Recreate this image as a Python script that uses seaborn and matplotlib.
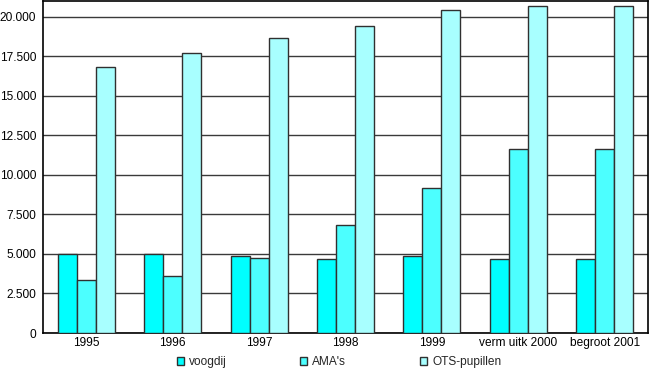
import matplotlib
matplotlib.use("Agg")
import matplotlib.pyplot as plt
from matplotlib.ticker import FuncFormatter, MultipleLocator, FixedLocator
import seaborn as sns
import pandas as pd

jaren = ["1995", "1996", "1997", "1998", "1999", "verm uitk 2000", "begroot 2001"]
voogdij = [5000, 5000, 4900, 4700, 4850, 4700, 4700]
amas = [3350, 3600, 4750, 6800, 9150, 11650, 11650]
ots = [16850, 17700, 18650, 19450, 20400, 20700, 20700]
reeksen = ["voogdij", "AMA's", "OTS-pupillen"]
kleuren = ["#00ffff", "#4cffff", "#a8ffff"]

df = pd.DataFrame({
    "jaar": jaren * 3,
    "reeks": [reeksen[0]] * 7 + [reeksen[1]] * 7 + [reeksen[2]] * 7,
    "aantal": voogdij + amas + ots,
})

sns.set_style("white")
plt.rcParams["font.family"] = ["Liberation Sans", "DejaVu Sans"]

fig = plt.figure(figsize=(6.58, 3.68), dpi=100)
ax = fig.add_axes([43 / 658, 1 - 333 / 368, (648 - 43) / 658, 332 / 368])

sns.barplot(data=df, x="jaar", y="aantal", hue="reeks", order=jaren,
            hue_order=reeksen, palette=kleuren, width=0.66, gap=0,
            edgecolor="#303030", linewidth=1, saturation=1, ax=ax, zorder=3)

ax.set_ylim(0, 21000)
ax.set_xlim(-0.5, 6.5)
ax.yaxis.set_major_locator(MultipleLocator(2500))
ax.yaxis.set_major_formatter(FuncFormatter(lambda v, p: f"{int(v):,}".replace(",", ".")))
ax.grid(axis="y", color="#3a3a3a", linewidth=1, zorder=0)
ax.set_axisbelow(True)
ax.set_xlabel("")
ax.set_ylabel("")

ax.xaxis.set_minor_locator(FixedLocator([i - 0.5 for i in range(8)]))
ax.tick_params(axis="x", which="major", length=0, pad=3, labelsize=8.6, colors="black")
ax.tick_params(axis="x", which="minor", length=3, width=1, color="black", direction="out")
ax.tick_params(axis="y", length=0, pad=5, labelsize=8.6, colors="black")

for s in ax.spines.values():
    s.set_color("black")
    s.set_linewidth(1.2)
    s.set_visible(True)

handles, labels = ax.get_legend_handles_labels()
ax.get_legend().remove()
fig.legend(handles, labels, loc="lower center", bbox_to_anchor=(0.515, -0.03),
           ncol=3, frameon=False, fontsize=8.6, handlelength=0.6, handleheight=0.6,
           handletextpad=0.4, columnspacing=6.2)

fig.savefig("out.png", dpi=100)
